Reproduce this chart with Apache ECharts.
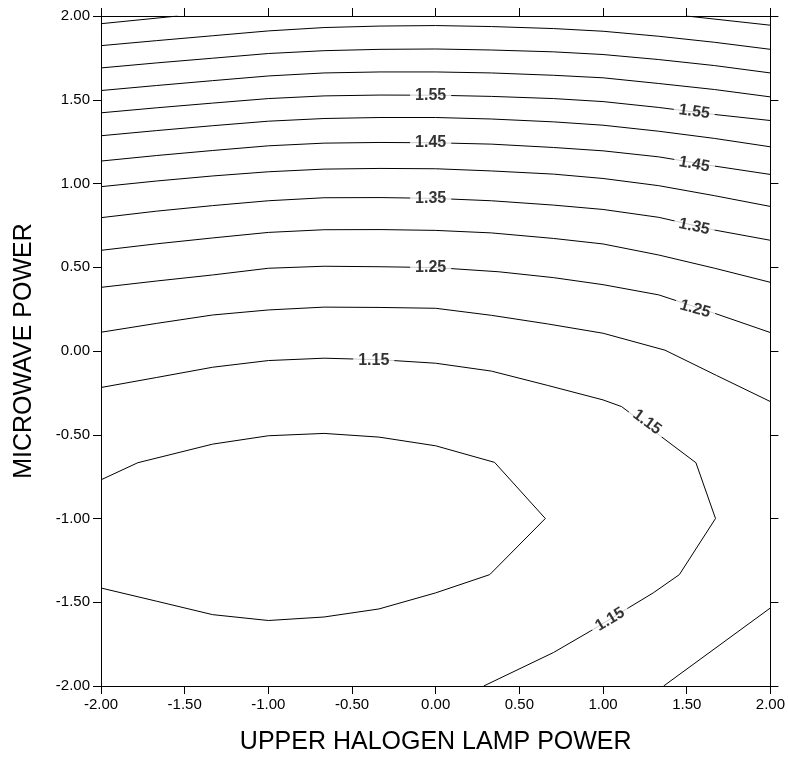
<!DOCTYPE html>
<html>
<head>
<meta charset="utf-8">
<script src="https://cdn.jsdelivr.net/npm/echarts@6/dist/echarts.min.js"></script>
<style>
  html, body { margin: 0; padding: 0; background: #fff; }
  #chart { width: 788px; height: 760px; }
</style>
</head>
<body>
<div id="chart"></div>
<script>
// axis ticks
var xTicks = [-2, -1.5, -1, -0.5, 0, 0.5, 1, 1.5, 2];
var yTicks = [-2, -1.5, -1, -0.5, 0, 0.5, 1, 1.5, 2];

// contour lines, [x, y] points
var c175a = [[-2, 1.954], [-1.542, 2]];
var c175b = [[1.499, 2], [2, 1.945]];
var c170 = [[-2, 1.823], [-1.667, 1.853], [-1.333, 1.882], [-1, 1.911], [-0.667, 1.931], [-0.333, 1.94], [0, 1.943], [0.333, 1.937], [0.704, 1.925], [1, 1.909], [1.333, 1.879], [1.667, 1.843], [2, 1.801]];
var c165 = [[-2, 1.69], [-1.667, 1.72], [-1.333, 1.748], [-1, 1.776], [-0.667, 1.793], [-0.333, 1.801], [0, 1.803], [0.333, 1.797], [0.704, 1.786], [1, 1.77], [1.333, 1.74], [1.667, 1.704], [2, 1.66]];
var c160 = [[-2, 1.555], [-1.667, 1.585], [-1.333, 1.614], [-1, 1.642], [-0.667, 1.66], [-0.333, 1.666], [0, 1.666], [0.333, 1.66], [0.704, 1.646], [1, 1.631], [1.333, 1.597], [1.667, 1.561], [2, 1.517]];
var c155 = [[-2, 1.422], [-1.667, 1.452], [-1.333, 1.48], [-1, 1.507], [-0.667, 1.523], [-0.333, 1.528], [0, 1.527], [0.333, 1.52], [0.704, 1.507], [1, 1.489], [1.333, 1.454], [1.667, 1.412], [2, 1.376]];
var c150 = [[-2, 1.285], [-1.667, 1.316], [-1.333, 1.345], [-1, 1.372], [-0.667, 1.388], [-0.333, 1.394], [0, 1.394], [0.333, 1.385], [0.704, 1.368], [1, 1.348], [1.333, 1.312], [1.667, 1.269], [2, 1.219]];
var c145 = [[-2, 1.134], [-1.667, 1.167], [-1.333, 1.197], [-1, 1.225], [-0.667, 1.241], [-0.333, 1.245], [0, 1.243], [0.333, 1.235], [0.704, 1.215], [1, 1.195], [1.333, 1.159], [1.667, 1.104], [2, 1.054]];
var c140 = [[-2, 0.981], [-1.667, 1.015], [-1.333, 1.045], [-1, 1.07], [-0.667, 1.086], [-0.333, 1.09], [0, 1.088], [0.333, 1.075], [0.704, 1.056], [1, 1.03], [1.333, 0.987], [1.667, 0.927], [2, 0.863]];
var c135 = [[-2, 0.796], [-1.667, 0.835], [-1.333, 0.868], [-1, 0.897], [-0.667, 0.915], [-0.333, 0.916], [0, 0.911], [0.333, 0.897], [0.704, 0.871], [1, 0.845], [1.333, 0.798], [1.667, 0.722], [2, 0.661]];
var c130 = [[-2, 0.601], [-1.667, 0.64], [-1.333, 0.675], [-1, 0.708], [-0.667, 0.724], [-0.333, 0.725], [0, 0.72], [0.333, 0.705], [0.704, 0.672], [1, 0.639], [1.333, 0.573], [1.667, 0.494], [2, 0.41]];
var c125 = [[-2, 0.38], [-1.667, 0.418], [-1.333, 0.454], [-1, 0.494], [-0.667, 0.506], [-0.333, 0.503], [0, 0.498], [0.377, 0.473], [0.704, 0.438], [1, 0.396], [1.333, 0.335], [1.667, 0.225], [2, 0.11]];
var c120a = [[-2, 0.112], [-1.667, 0.165], [-1.333, 0.215], [-1, 0.245], [-0.667, 0.262], [-0.333, 0.26], [0, 0.255], [0.333, 0.213], [0.667, 0.162], [1, 0.106], [1.37, 0.005], [1.678, -0.146], [2, -0.302]];
var c120b = [[1.362, -2], [2, -1.534]];
var c115 = [[-2, -0.218], [-1.667, -0.158], [-1.333, -0.097], [-1, -0.057], [-0.667, -0.043], [-0.333, -0.052], [0, -0.073], [0.333, -0.12], [0.667, -0.205], [1, -0.292], [1.111, -0.332], [1.37, -0.528], [1.555, -0.667], [1.672, -1], [1.456, -1.335], [1.3, -1.444], [1.151, -1.534], [0.923, -1.673], [0.704, -1.8], [0.287, -2]];
var c110 = [[-2, -0.769], [-1.78, -0.667], [-1.333, -0.556], [-1, -0.506], [-0.667, -0.492], [-0.339, -0.514], [0, -0.566], [0.352, -0.665], [0.655, -1], [0.323, -1.335], [0, -1.444], [-0.339, -1.54], [-0.667, -1.588], [-1, -1.609], [-1.333, -1.574], [-1.667, -1.494], [-2, -1.415]];

// contour labels: [x, y, text, angle]
var contourLabels = [
  [-0.03, 1.527, '1.55', 0],
  [-0.03, 1.243, '1.45', 0],
  [-0.03, 0.911, '1.35', 0],
  [-0.03, 0.497, '1.25', 0],
  [-0.37, -0.055, '1.15', 0],
  [1.545, 1.428, '1.55', -8],
  [1.545, 1.114, '1.45', -10],
  [1.545, 0.742, '1.35', -12],
  [1.55, 0.251, '1.25', -16],
  [1.263, -0.425, '1.15', -36],
  [1.042, -1.603, '1.15', 31]
];

var allLines = [c175a, c175b, c170, c165, c160, c155, c150, c145, c140, c135, c130, c125, c120a, c120b, c115, c110];

var FONT = 'Liberation Sans';

function axisCommon(pos, showLabel) {
  return {
    type: 'value',
    position: pos,
    min: -2,
    max: 2,
    interval: 0.5,
    splitLine: { show: false },
    axisLine: { show: true, onZero: false, lineStyle: { color: '#000', width: 1 } },
    axisTick: { show: true, length: 8, lineStyle: { color: '#000', width: 1 } },
    axisLabel: {
      show: showLabel,
      margin: 11,
      color: '#000',
      fontSize: 15,
      fontFamily: FONT,
      formatter: function (v) { return v.toFixed(2); }
    }
  };
}

var xBottom = axisCommon('bottom', true);
xBottom.name = 'UPPER HALOGEN LAMP POWER';
xBottom.nameLocation = 'middle';
xBottom.nameGap = 44;
xBottom.nameTextStyle = { color: '#000', fontSize: 25, fontFamily: FONT };

var yLeft = axisCommon('left', true);
yLeft.name = 'MICROWAVE POWER';
yLeft.nameLocation = 'middle';
yLeft.nameGap = 64;
yLeft.nameTextStyle = { color: '#000', fontSize: 25, fontFamily: FONT };

var series = allLines.map(function (pts) {
  return {
    type: 'line',
    xAxisIndex: 0,
    yAxisIndex: 0,
    data: pts,
    showSymbol: false,
    symbol: 'none',
    smooth: false,
    silent: true,
    lineStyle: { color: '#000', width: 1 },
    z: 2
  };
});

series.push({
  type: 'scatter',
  xAxisIndex: 0,
  yAxisIndex: 0,
  symbolSize: 1,
  itemStyle: { color: 'transparent' },
  silent: true,
  z: 5,
  data: contourLabels.map(function (d) {
    return {
      value: [d[0], d[1]],
      label: { formatter: d[2], rotate: d[3] }
    };
  }),
  label: {
    show: true,
    position: 'inside',
    color: '#000',
    fontSize: 16,
    fontWeight: 'bold',
    fontFamily: FONT,
    backgroundColor: '#fff',
    padding: [1, 5]
  }
});

var chart = echarts.init(document.getElementById('chart'), null, { renderer: 'canvas' });
chart.setOption({
  animation: false,
  backgroundColor: '#fff',
  grid: { left: 101, top: 16, width: 671, height: 671 },
  xAxis: [xBottom, axisCommon('top', false)],
  yAxis: [yLeft, axisCommon('right', false)],
  series: series
});
</script>
</body>
</html>
